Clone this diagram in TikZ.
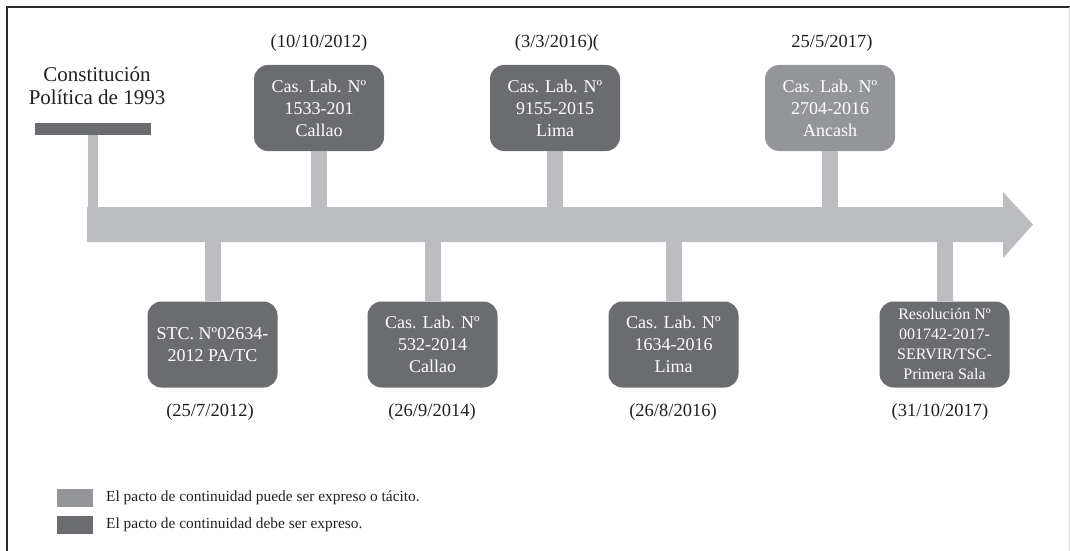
\documentclass[tikz,border=0pt]{standalone}
\usepackage{fontspec}
\setmainfont{Liberation Serif}
\definecolor{boxdark}{HTML}{6B6C70}
\definecolor{boxmid}{HTML}{939598}
\definecolor{stemgray}{HTML}{BCBDC0}
\definecolor{ink}{HTML}{231F20}
\definecolor{frameline}{HTML}{2B2B2B}
\tikzset{
  casebox/.style={fill=boxdark, rounded corners=14pt, minimum width=130pt,
    minimum height=86pt, inner sep=0pt, text=white, align=center,
    font=\fontsize{18}{22}\selectfont},
  casemid/.style={casebox, fill=boxmid},
  datelabel/.style={text=ink, font=\fontsize{18.5}{22}\selectfont, inner sep=0pt},
  stem/.style={draw=stemgray, line width=16pt},
  swatch/.style={minimum width=36pt, minimum height=18pt, inner sep=0pt},
  legendtext/.style={text=ink, anchor=west, inner sep=0pt, font=\fontsize{15.4}{18}\selectfont}
}
\begin{document}
\begin{tikzpicture}[x=1pt, y=-1pt]
\useasboundingbox (0,0) rectangle (1070,551);
% frame
\draw[frameline, line width=1.6pt] (7,551) -- (7,7) -- (1070,7);
\draw[stemgray!60, line width=1pt] (1069,7) -- (1069,551);

% timeline arrow
\fill[stemgray] (87,207) -- (1003,207) -- (1003,192) -- (1033,224.5)
  -- (1003,258) -- (1003,242) -- (87,242) -- cycle;

% points on the timeline
\coordinate (t0) at (93,224.5);
\coordinate (t1) at (319,224.5);
\coordinate (t2) at (555,224.5);
\coordinate (t3) at (830,224.5);
\coordinate (b1) at (212.5,224.5);
\coordinate (b2) at (432.5,224.5);
\coordinate (b3) at (673.5,224.5);
\coordinate (b4) at (944.5,224.5);

% starting point
\node[text=ink, align=center, font=\fontsize{21}{23}\selectfont, inner sep=0pt]
  (const) at (97,86) {Constitución\\Política de 1993};
\node[fill=boxdark, minimum width=116pt, minimum height=12pt, inner sep=0pt]
  (constbar) at (93,129) {};

% upper cases
\node[casebox] (u1) at (319,108) {Cas. Lab. Nº\\1533-201\\Callao};
\node[casebox] (u2) at (555,108) {Cas. Lab. Nº\\9155-2015\\Lima};
\node[casemid] (u3) at (830,108) {Cas. Lab. Nº\\2704-2016\\Ancash};

% lower cases
\node[casebox] (l1) at (212.5,344.5) {STC. Nº02634-\\2012 PA/TC};
\node[casebox] (l2) at (432.5,344.5) {Cas. Lab. Nº\\532-2014\\Callao};
\node[casebox] (l3) at (673.5,344.5) {Cas. Lab. Nº\\1634-2016\\Lima};
\node[casebox, font=\fontsize{16}{20}\selectfont] (l4) at (944.5,344.5)
  {Resolución Nº\\001742-2017-\\SERVIR/TSC-\\Primera Sala};

% stems
\draw[stem, line width=10pt] (constbar.south) -- (t0);
\draw[stem] (u1.south) -- (t1);
\draw[stem] (u2.south) -- (t2);
\draw[stem] (u3.south) -- (t3);
\draw[stem] (l1.north) -- (b1);
\draw[stem] (l2.north) -- (b2);
\draw[stem] (l3.north) -- (b3);
\draw[stem] (l4.north) -- (b4);

% dates
\node[datelabel] (d1) at (319,43) {(10/10/2012)};
\node[datelabel] (d2) at (557,43) {(3/3/2016)(};
\node[datelabel] (d3) at (832,43) {25/5/2017)};
\node[datelabel] (d4) at (210,412) {(25/7/2012)};
\node[datelabel] (d5) at (432,412) {(26/9/2014)};
\node[datelabel] (d6) at (673,412) {(26/8/2016)};
\node[datelabel] (d7) at (940,412) {(31/10/2017)};

% legend
\node[swatch, fill=boxmid] (k1) at (75,497.5) {};
\node[swatch, fill=boxdark] (k2) at (75,525) {};
\node[legendtext] (k1t) at (106,497.5) {El pacto de continuidad puede ser expreso o tácito.};
\node[legendtext] (k2t) at (106,525) {El pacto de continuidad debe ser expreso.};
\end{tikzpicture}
\end{document}
